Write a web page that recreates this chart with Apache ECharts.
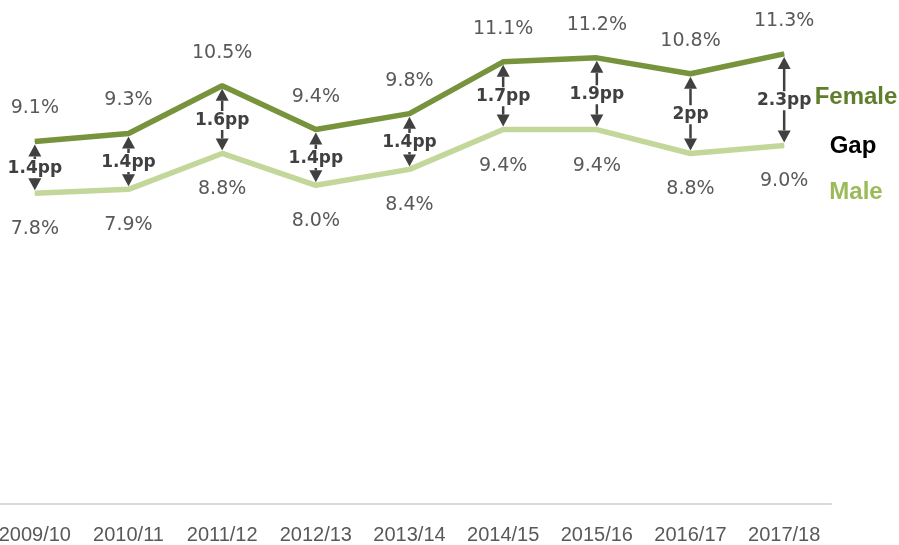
<!DOCTYPE html>
<html>
<head>
<meta charset="utf-8">
<script src="https://cdn.jsdelivr.net/npm/echarts@6/dist/echarts.min.js"></script>
<style>
  html, body { margin: 0; padding: 0; background: #fff; overflow: hidden; }
  /* the chart starts a little left of the visible page, like the cropped original */
  #main { width: 911px; height: 545px; margin-left: -12px; }
</style>
</head>
<body>
<div id="main"></div>
<script>
// chart data
const years = ['2009/10', '2010/11', '2011/12', '2012/13', '2013/14', '2014/15', '2015/16', '2016/17', '2017/18'];
const female = [9.1, 9.3, 10.5, 9.4, 9.8, 11.1, 11.2, 10.8, 11.3];
const male = [7.8, 7.9, 8.8, 8.0, 8.4, 9.4, 9.4, 8.8, 9.0];
const gapLabels = ['1.4pp', '1.4pp', '1.6pp', '1.4pp', '1.4pp', '1.7pp', '1.9pp', '2pp', '2.3pp'];

const darkGreen = '#77933c';
const lightGreen = '#c4d79b';
const grey = '#404040';

const gapData = years.map((y, i) => [i, female[i], male[i]]);

const chart = echarts.init(document.getElementById('main'));

function pct(p) {
  return p.value.toFixed(1) + '%';
}

chart.setOption({
  animation: false,
  grid: { left: 0, right: 68, top: 26, bottom: 40 },
  xAxis: {
    type: 'category',
    data: years,
    axisLine: { lineStyle: { color: '#d9d9d9', width: 2 } },
    axisTick: { show: false },
    axisLabel: {
      interval: 0,
      fontSize: 20,
      color: '#595959',
      fontFamily: 'Liberation Sans',
      margin: 21
    }
  },
  yAxis: {
    type: 'value',
    min: 0,
    max: 12,
    show: false
  },
  series: [
    {
      name: 'Female',
      type: 'line',
      data: female,
      symbol: 'circle',
      symbolSize: 1,
      lineStyle: { color: darkGreen, width: 5.5 },
      itemStyle: { color: darkGreen },
      label: {
        show: true,
        position: 'top',
        distance: 23,
        formatter: pct,
        fontSize: 19,
        color: '#595959',
        fontFamily: 'DejaVu Sans'
      }
    },
    {
      name: 'Male',
      type: 'line',
      data: male,
      symbol: 'circle',
      symbolSize: 1,
      lineStyle: { color: lightGreen, width: 5.5 },
      itemStyle: { color: lightGreen },
      label: {
        show: true,
        position: 'bottom',
        distance: 26,
        formatter: pct,
        fontSize: 19,
        color: '#595959',
        fontFamily: 'DejaVu Sans'
      }
    },
    {
      name: 'Gap',
      type: 'custom',
      data: gapData,
      z: 5,
      renderItem: function (params, api) {
        const top = api.coord([api.value(0), api.value(1)]);
        const bot = api.coord([api.value(0), api.value(2)]);
        const x = top[0];
        const t = top[1] + 3;
        const b = bot[1] - 3;
        const h = 12, w = 6.5;
        return {
          type: 'group',
          children: [
            {
              type: 'line',
              shape: { x1: x, y1: t + h, x2: x, y2: b - h },
              style: { stroke: grey, lineWidth: 2.5 }
            },
            {
              type: 'text',
              x: x,
              y: (t + b) / 2 + 1,
              style: {
                text: gapLabels[params.dataIndex],
                align: 'center',
                verticalAlign: 'middle',
                font: 'bold 17px "DejaVu Sans"',
                fill: grey,
                backgroundColor: '#fff',
                padding: [1, 0]
              }
            },
            {
              type: 'polygon',
              shape: { points: [[x, t], [x - w, t + h], [x + w, t + h]] },
              style: { fill: grey }
            },
            {
              type: 'polygon',
              shape: { points: [[x, b], [x - w, b - h], [x + w, b - h]] },
              style: { fill: grey }
            }
          ]
        };
      }
    }
  ],
  graphic: [
    {
      type: 'text', x: 868, y: 97,
      style: { text: 'Female', align: 'center', verticalAlign: 'middle', font: 'bold 24px "Liberation Sans"', fill: '#5f7f2c' }
    },
    {
      type: 'text', x: 865, y: 146,
      style: { text: 'Gap', align: 'center', verticalAlign: 'middle', font: 'bold 24px "Liberation Sans"', fill: '#000' }
    },
    {
      type: 'text', x: 868, y: 192,
      style: { text: 'Male', align: 'center', verticalAlign: 'middle', font: 'bold 24px "Liberation Sans"', fill: '#9bbb59' }
    }
  ]
});
</script>
</body>
</html>
